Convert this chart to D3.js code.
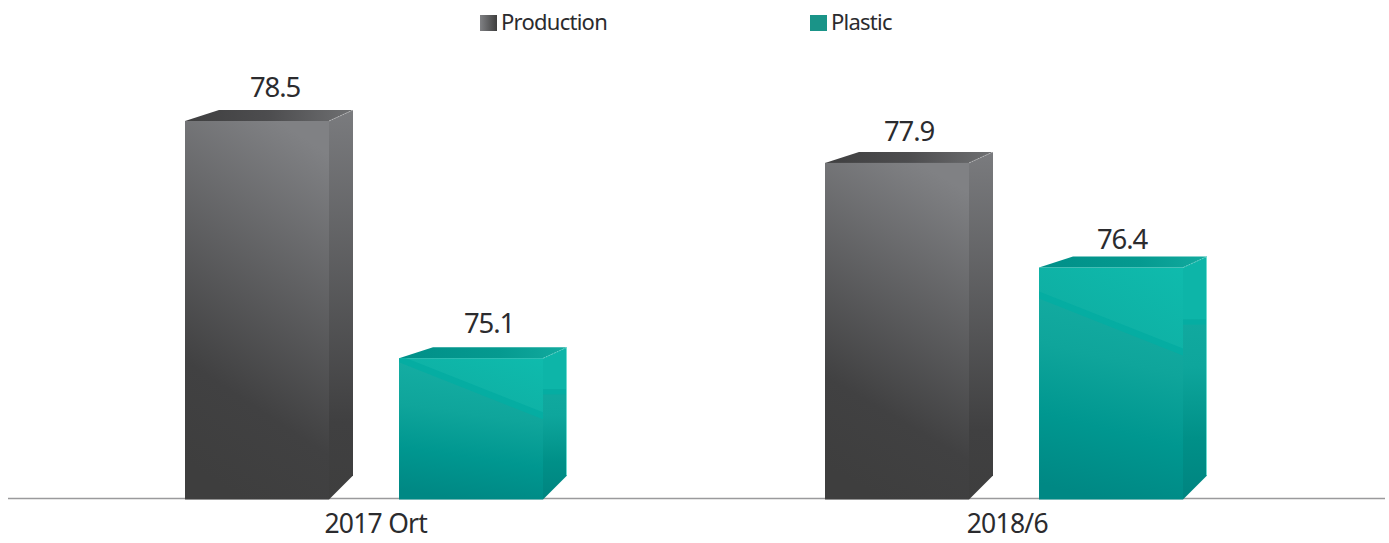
<!DOCTYPE html>
<html><head><meta charset="utf-8">
<script src="https://cdn.jsdelivr.net/npm/d3@7/dist/d3.min.js"></script>
<style>html,body{margin:0;background:#fff}svg{display:block}text{font-family:"Noto Sans",sans-serif;fill:#2b2b2e}</style>
</head><body><svg id="c" width="1389" height="543"></svg>
<script>
const categories = ["2017 Ort", "2018/6"];
const seriesNames = ["Production", "Plastic"];
const production = [78.5, 77.9];
const plastic = [75.1, 76.4];

const svg = d3.select("#c");
const base = 498;
const y = d3.scaleLinear().domain([73.1, 78.5]).range([base, 121]);
const x0 = d3.scaleBand().domain(categories).range([44, 1324]);
const x1 = d3.scaleBand().domain(seriesNames).range([141, 499]).paddingInner(70 / 214).paddingOuter(0);
const labelX = d3.scaleBand().domain(categories).range([60, 1323]);

const defs = svg.append("defs");
function lin(id, a, b, stops) {
  const g = defs.append("linearGradient").attr("id", id)
    .attr("x1", a[0]).attr("y1", a[1]).attr("x2", b[0]).attr("y2", b[1]);
  stops.forEach(s => g.append("stop").attr("offset", s[0]).attr("stop-color", s[1]));
}
lin("pF", [0.65, 0], [0.4, 1], [[0, "#808184"], [0.75, "#414142"], [1, "#3e3e3e"]]);
lin("pS", [0, 0], [0, 1], [[0, "#7a7b7e"], [0.8, "#404041"], [1, "#3e3e3e"]]);
lin("pT", [0, 0], [1, 0], [[0, "#3f3f40"], [0.5, "#4d4d4f"], [1, "#6f7072"]]);
lin("tF", [0.6, 0], [0.45, 1], [[0, "#16b0a5"], [0.4, "#0fa59b"], [0.7, "#009790"], [1, "#008884"]]);
lin("tS", [0, 0], [0, 1], [[0, "#15aea3"], [0.45, "#0ea69c"], [0.75, "#009088"], [1, "#008480"]]);
lin("tT", [0, 0], [1, 0], [[0, "#008f88"], [0.6, "#059a90"], [1, "#12ab9f"]]);
lin("tA", [1, 0], [0, 1], [[0, "#0fbbad"], [1, "#0eaa9f"]]);
lin("legP", [0, 0], [1, 0], [[0, "#808184"], [1, "#3e3e3e"]]);

const dx = 24, dyTop = 11, dyBottom = 24, overhang = 1.5;
const series = [
  { name: "Production", values: production, pre: "p", nudgeX: [18, 12], nudgeY: [-24, -22] },
  { name: "Plastic", values: plastic, pre: "t", nudgeX: [18, 11], nudgeY: [-25, -19] }
];

const axis = d3.axisBottom(labelX).tickSize(0).tickPadding(16);
const axG = svg.append("g").attr("transform", `translate(0,${base})`).call(axis);
axG.select(".domain").attr("stroke", "#9a9a9c").attr("stroke-width", 1.5)
  .attr("d", "M8,0.5H1385");
axG.selectAll("text").attr("font-size", 26.5).attr("letter-spacing", -0.75)
  .style("font-family", '"Noto Sans",sans-serif').attr("fill", "#2b2b2e");

series.forEach(s => {
  const w = x1.bandwidth();
  const g = svg.append("g").selectAll("g").data(categories.map((c, i) => ({ c, v: s.values[i] }))).join("g");
  g.each(function (d, i) {
    const sel = d3.select(this);
    const L = x0(d.c) + x1(s.name), R = L + w, T = y(d.v), B = base + overhang;
    sel.append("path").attr("fill", `url(#${s.pre}T)`)
      .attr("d", `M${L},${T}L${L + 34},${T - dyTop}H${R + dx}L${R},${T}Z`);
    sel.append("path").attr("fill", `url(#${s.pre}S)`)
      .attr("d", `M${R},${T}L${R + dx},${T - dyTop}V${B - dyBottom}L${R},${B}Z`);
    sel.append("rect").attr("x", L).attr("y", T).attr("width", w).attr("height", B - T).attr("fill", `url(#${s.pre}F)`);
    if (s.pre === "t") {
      const id = "clip" + i;
      defs.append("clipPath").attr("id", id).append("rect").attr("x", L).attr("y", T).attr("width", w).attr("height", B - T);
      const extra = i === 0 ? 0 : 27;
      const t0 = T + extra, t1 = t0 + 57;
      const clip = `url(#${id})`;
      sel.append("path").attr("fill", "url(#tA)").attr("clip-path", clip)
        .attr("d", `M${L},${T}H${R}V${t1}L${L},${t0}Z`);
      sel.append("path").attr("fill", "#05ada2").attr("clip-path", clip)
        .attr("d", `M${L},${t0 + 4}L${R},${t1 + 4}V${t1 - 3}L${L},${t0 - 3}Z`);
      const by = T + 31 + (i === 0 ? 0 : 21);
      sel.append("path").attr("fill", "#0db5a8")
        .attr("d", `M${R},${T}L${R + dx},${T - dyTop}V${by}H${R}Z`);
      sel.append("rect").attr("x", R).attr("y", by).attr("width", dx).attr("height", 5).attr("fill", "#05ada2");
      sel.append("path").attr("fill", "none").attr("stroke", "#6fdcd2").attr("stroke-width", 1)
        .attr("d", `M${R + dx - 0.5},${T - dyTop}V${B - dyBottom}`);
    }
    sel.append("path").attr("fill", "none").attr("stroke", "#ffffff").attr("stroke-opacity", 0.3).attr("stroke-width", 1)
      .attr("stroke-dasharray", "2 1").attr("d", `M${R},${T}L${R + dx},${T - dyTop}`);
    sel.append("text").attr("x", L + w / 2 + s.nudgeX[i]).attr("y", T + s.nudgeY[i]).attr("text-anchor", "middle")
      .attr("font-size", 27.5).attr("letter-spacing", -1.1).text(d3.format(".1f")(d.v));
  });
});

const legendX = d3.scaleOrdinal().domain(seriesNames).range([480, 810]);
const legend = svg.append("g").selectAll("g").data(seriesNames).join("g")
  .attr("transform", d => `translate(${legendX(d)},15)`);
legend.append("rect").attr("width", 17).attr("height", 16)
  .attr("fill", d => d === "Production" ? "url(#legP)" : "#1a9488");
legend.append("text").attr("x", 21).attr("y", 14.5).attr("font-size", 22).attr("letter-spacing", -0.75).text(d => d);
</script></body></html>
